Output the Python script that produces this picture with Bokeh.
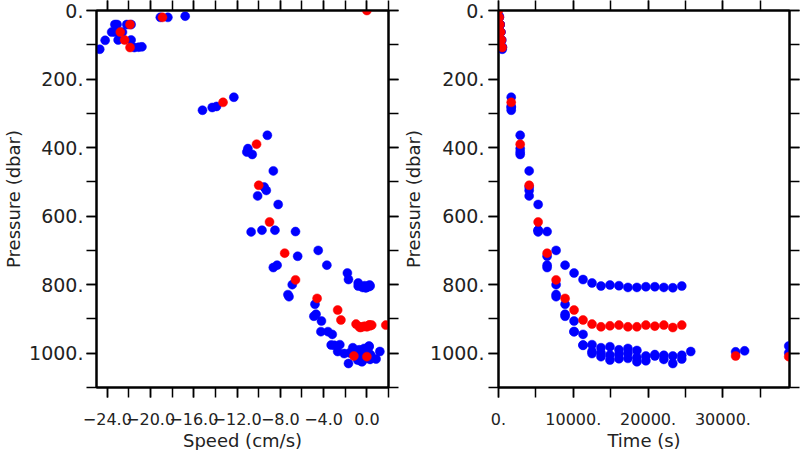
from bokeh.plotting import figure
from bokeh.models import Range1d, LinearAxis, FixedTicker, Title
from bokeh.layouts import row
from bokeh.embed import file_html
from bokeh.resources import INLINE

# ---------------- data ----------------
red_time = [0, 100, 200, 300, 400, 500, 1700, 2900, 4100, 5300, 6500, 7700, 8900,
            10100, 11300, 12500, 13700, 14900, 16100, 17300, 18500, 19700, 20900,
            22100, 23300, 24500, 31700, 38800]
red_pres = [0, 20, 41, 63, 86, 108, 268, 390, 510, 617, 708, 786, 840,
            874, 903, 915, 923, 920, 918, 923, 923, 918, 921,
            918, 925, 918, 1008, 1010]
red_speed = [0.0, -18.9, -21.9, -22.8, -22.4, -21.9, -13.3, -10.2, -10.0, -9.0, -7.6, -6.6, -4.6,
             -2.7, -2.4, -1.0, -0.7, 0.3, 0.2, -0.4, 0.0, 0.45, -0.2,
             0.25, -0.6, 1.75, -1.2, 0.0]

blue_time = [100, 100, 100,
             200, 200, 200, 200,
             300, 300, 300,
             400, 400, 400,
             500, 500, 500, 500,
             1700, 1700, 1700, 1700,
             2900, 2900, 2900, 2900,
             4100, 4100, 4100, 4100,
             5300, 5300, 5300, 5300,
             6500, 6500, 6500, 6500,
             7700, 7700, 7700, 7700,
             8900, 8900, 8900, 8900,
             10100, 10100, 10100, 10100,
             11300, 11300, 11300, 11300,
             12500, 12500, 12500, 12500,
             13700, 13700, 13700, 13700,
             14900, 14900, 14900, 14900,
             16100, 16100, 16100, 16100,
             17300, 17300, 17300, 17300,
             18500, 18500, 18500, 18500,
             19700, 19700, 19700,
             20900, 20900, 20900,
             22100, 22100, 22100,
             23300, 23300, 23300,
             24500, 24500, 24500,
             25700, 31700, 32900, 38800, 38800]
blue_pres = [20, 20, 16.5,
             41, 41, 41, 41,
             63, 63, 63,
             87, 86, 86,
             113, 108, 107, 106,
             253, 280, 283, 291,
             364, 403, 413, 420,
             468, 515, 525, 541,
             566, 641, 641, 646,
             645, 717, 743, 750,
             700, 800, 829, 835,
             743, 857, 886, 892,
             766, 906, 937, 937,
             785, 945, 976, 977,
             795, 975, 995, 1001,
             804, 984, 999, 1010,
             801, 981, 1005, 1020,
             803, 990, 1003, 1016,
             808, 986, 1000, 1015,
             808, 992, 1012, 1025,
             806, 1008, 1022,
             806, 1004, 1008,
             808, 1006, 1018,
             809, 1008, 1030,
             804, 1006, 1017,
             995, 996, 993, 979, 999]
blue_speed = [-19.1, -18.4, -16.8,
              -23.3, -23.1, -22.2, -21.8,
              -23.6, -23.3, -22.6,
              -24.2, -23.0, -21.8,
              -24.7, -21.5, -21.1, -20.8,
              -12.3, -13.9, -14.3, -15.2,
              -9.2, -11.0, -11.1, -10.6,
              -8.65, -9.5, -9.3, -10.1,
              -8.2, -9.7, -8.5, -10.7,
              -6.6, -6.4, -8.3, -8.65,
              -4.5, -6.9, -7.3, -7.2,
              -3.7, -4.8, -4.7, -4.9,
              -1.8, -4.2, -4.25, -3.6,
              -1.7, -3.2, -3.3, -3.0,
              -0.8, -2.5, -2.7, -2.1,
              -0.8, -1.3, -1.6, -0.9,
              0.25, 0.2, -1.0, -0.85,
              -0.2, -0.7, -0.3, 0.3,
              -0.4, -0.25, -0.1, 0.0,
              -0.05, -1.0, -0.5, -0.45,
              0.15, -0.2, -0.6,
              0.0, 0.3, 0.0,
              -0.15, 0.1, 0.3,
              -0.1, -0.1, -1.7,
              0.3, 0.35, 0.85,
              1.2, 0.1, 0.0, 0.2, -0.25]

pres_ticks = [0, 200, 400, 600, 800, 1000]
pres_minor = [0, 100, 200, 300, 400, 500, 600, 700, 800, 900, 1000, 1100]
pres_labels = ["0.", "200.", "400.", "600.", "800.", "1000."]

speed_ticks = [-24, -20, -16, -12, -8, -4, 0]
speed_minor = [-24, -22, -20, -18, -16, -14, -12, -10, -8, -6, -4, -2, 0, 2]
speed_labels = ["\u221224.0", "\u221220.0", "\u221216.0", "\u221212.0", "\u22128.0", "\u22124.0", "0.0"]

time_ticks = [0, 10000, 20000, 30000]
time_minor = [0, 5000, 10000, 15000, 20000, 25000, 30000, 35000]
time_labels = ["0.", "10000.", "20000.", "30000."]

FONT = "DejaVu Sans"
TXT = "#222222"


def add_axis(p, side, ticks, minor, labels, tick_out, label_size="1px",
             standoff=0, title=None, title_standoff=0):
    ax = LinearAxis(ticker=FixedTicker(ticks=ticks, minor_ticks=minor))
    ax.major_tick_in = 0
    ax.minor_tick_in = 0
    ax.major_tick_out = tick_out
    ax.minor_tick_out = tick_out
    ax.axis_line_width = 2
    ax.axis_line_color = "black"
    ax.major_tick_line_width = 1.5
    ax.minor_tick_line_width = 1.5
    ax.major_tick_line_color = "black"
    ax.minor_tick_line_color = "black"
    if labels is None:
        ax.major_label_overrides = {t: "" for t in ticks}
    else:
        ax.major_label_overrides = {t: s for t, s in zip(ticks, labels)}
    ax.major_label_text_font = FONT
    ax.major_label_text_font_size = label_size
    ax.major_label_text_color = TXT
    ax.major_label_standoff = standoff
    if title is not None:
        ax.axis_label = title
        ax.axis_label_text_font = FONT
        ax.axis_label_text_font_size = "18px"
        ax.axis_label_text_font_style = "normal"
        ax.axis_label_text_color = TXT
        ax.axis_label_standoff = title_standoff
    p.add_layout(ax, side)
    return ax


def make_panel(xr, x_ticks, x_minor, x_labels, x_title, min_left, min_right,
               y_standoff, y_title_standoff, xs_red, xs_blue):
    p = figure(width=400, height=450, x_range=Range1d(*xr), y_range=Range1d(1100, 0),
               output_backend="svg", toolbar_location=None, title=None,
               x_axis_location=None, y_axis_location=None,
               min_border_left=min_left, min_border_right=min_right,
               min_border_top=10, min_border_bottom=0)
    p.grid.grid_line_color = None
    p.outline_line_color = "black"
    p.outline_line_width = 2
    p.background_fill_color = "white"
    p.border_fill_color = "white"

    add_axis(p, "left", pres_ticks, pres_minor, pres_labels, 10, "19px",
             y_standoff, "Pressure (dbar)", y_title_standoff)
    add_axis(p, "right", pres_ticks, pres_minor, None, 10)
    add_axis(p, "below", x_ticks, x_minor, x_labels, 10, "16px", 15)
    add_axis(p, "above", x_ticks, x_minor, None, 10)

    p.add_layout(Title(text=x_title, align="center", text_font=FONT, text_font_size="18px",
                       text_font_style="normal", text_color=TXT, standoff=0, offset=0), "below")

    p.scatter(xs_blue, blue_pres, size=9, fill_color="#0000ff", line_color="#0000ff", line_width=0.5)
    p.scatter(xs_red, red_pres, size=9, fill_color="#ff0000", line_color="#ff0000", line_width=0.5)
    return p


p1 = make_panel((-25, 2), speed_ticks, speed_minor, speed_labels, "Speed (cm/s)",
                96, 12, 3, 2, red_speed, blue_speed)
p2 = make_panel((0, 38900), time_ticks, time_minor, time_labels, "Time (s)",
                97, 11, 4, 3, red_time, blue_time)

layout = row(p1, p2)
open("out.html", "w").write(file_html(layout, INLINE))
